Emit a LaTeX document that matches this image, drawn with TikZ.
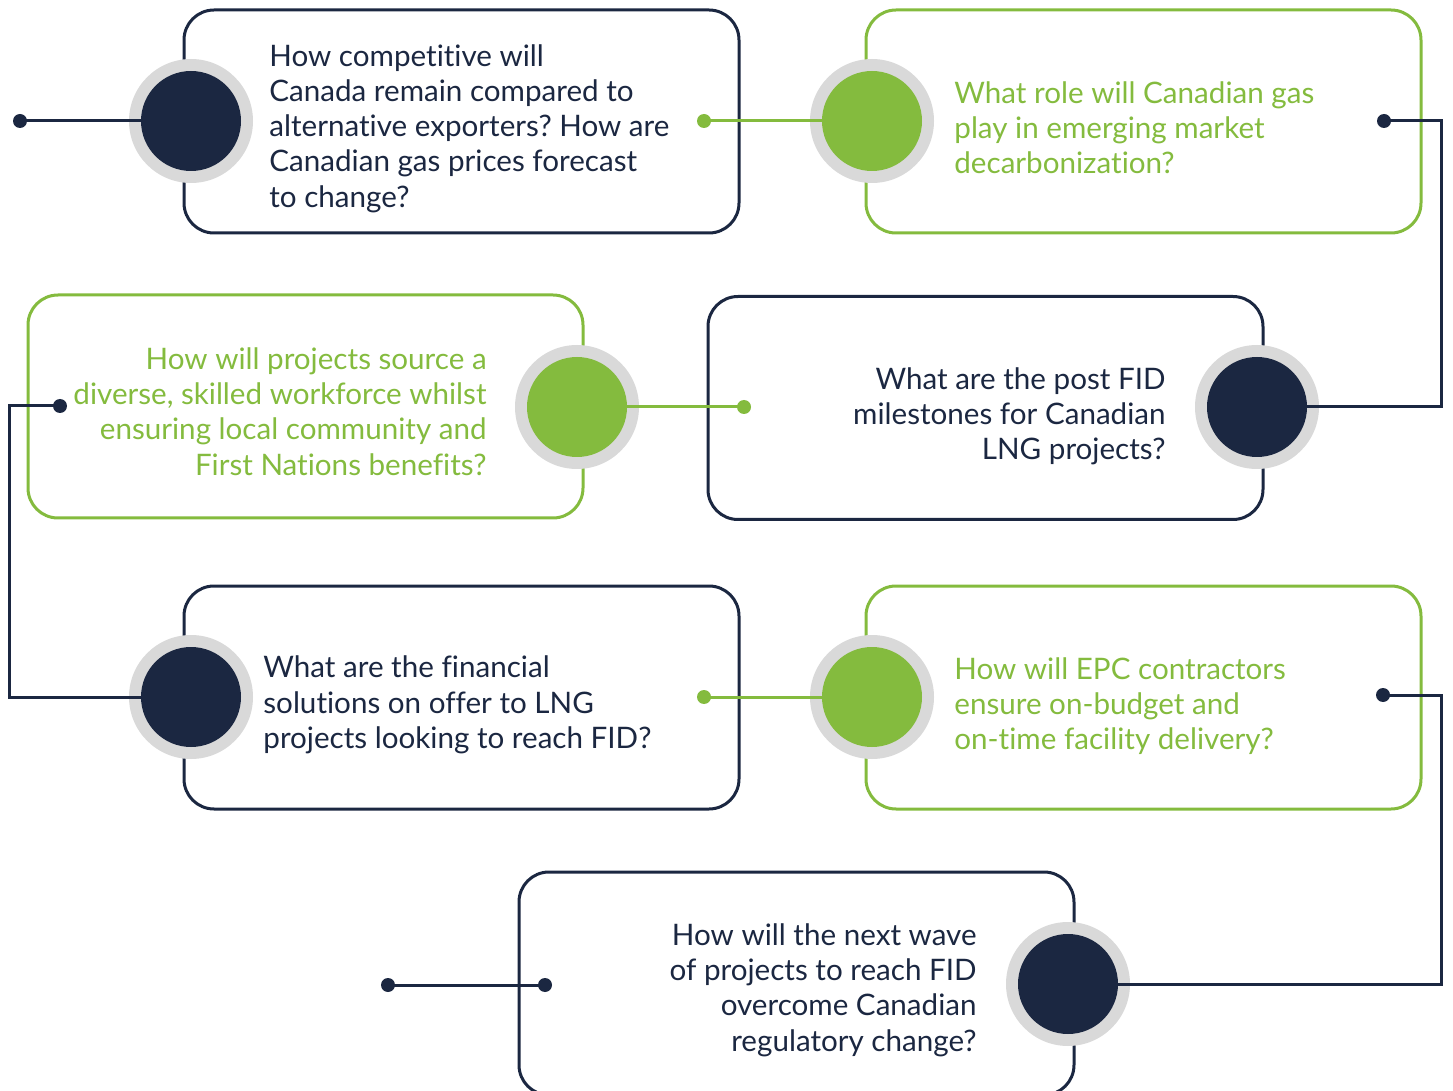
\documentclass[tikz,border=0pt]{standalone}
\usepackage{fontspec}
\setmainfont{Lato}[Ligatures=CommonOff]
\frenchspacing
\definecolor{navy}{HTML}{1B2741}
\definecolor{leaf}{HTML}{84BB3E}
\definecolor{ringgray}{HTML}{D9D9D9}
\tikzset{
  qbox/.style={draw=#1, line width=1.5pt, rounded corners=15pt, minimum width=277.5pt, minimum height=111.5pt, inner sep=0pt},
  ring/.style={circle, fill=ringgray, minimum size=62pt, inner sep=0pt},
  core/.style={circle, fill=#1, minimum size=50pt, inner sep=0pt, outer sep=0pt},
  dot/.style={circle, fill=#1, minimum size=7pt, inner sep=0pt},
  link/.style={draw=#1, line width=1.5pt},
  qtext/.style={text=#1, font=\fontsize{14.8pt}{17.6pt}\selectfont, inner sep=0pt},
}
\begin{document}
\begin{tikzpicture}[x=0.5pt, y=-0.5pt]
\clip (0,0) rectangle (1453,1091);
% question boxes
\node[qbox=navy] (b1) at (461.5,121.5) {};
\node[qbox=leaf] (b2) at (1143.5,121.5) {};
\node[qbox=leaf] (b3) at (305.5,406.5) {};
\node[qbox=navy] (b4) at (985.5,408) {};
\node[qbox=navy] (b5) at (461.5,697.5) {};
\node[qbox=leaf] (b6) at (1143.5,697.5) {};
\node[qbox=navy] (b7) at (796.5,983.5) {};
% texts
\node[qtext=navy, anchor=west, align=left] (t1) at (269,128.5) {How competitive will\\Canada remain compared to\\alternative exporters? How are\\Canadian gas prices forecast\\to change?};
\node[qtext=leaf, anchor=west, align=left] (t2) at (954,127.5) {What role will Canadian gas\\play in emerging market\\decarbonization?};
\node[qtext=leaf, anchor=east, align=right] (t3) at (487,411.5) {How will projects source a\\diverse, skilled workforce whilst\\ensuring local community and\\First Nations benefits?};
\node[qtext=navy, anchor=east, align=right] (t4) at (1166,416) {What are the post FID\\milestones for Canadian\\LNG projects?};
\node[qtext=navy, anchor=west, align=left] (t5) at (263,705) {What are the financial\\solutions on offer to LNG\\projects looking to reach FID?};
\node[qtext=leaf, anchor=west, align=left] (t6) at (954,706) {How will EPC contractors\\ensure on-budget and\\on-time facility delivery?};
\node[qtext=navy, anchor=east, align=right] (t7) at (977,990) {How will the next wave\\of projects to reach FID\\overcome Canadian\\regulatory change?};
% circles
\foreach \n/\col/\x/\y in {1/navy/191/121, 2/leaf/872/121, 3/leaf/577/407, 4/navy/1257/407, 5/navy/191/697, 6/leaf/872/697, 7/navy/1068/984}{
  \node[ring] (r\n) at (\x,\y) {};
  \node[core=\col] (c\n) at (\x,\y) {};
}
% end dots
\node[dot=navy] (d1) at (20,121) {};
\node[dot=leaf] (d2) at (704,121) {};
\node[dot=navy] (d3) at (1384,121) {};
\node[dot=leaf] (d4) at (744,407) {};
\node[dot=navy] (d5) at (60,406) {};
\node[dot=leaf] (d6) at (704,697) {};
\node[dot=navy] (d7) at (1383,695) {};
\node[dot=navy] (d8) at (388,985) {};
\node[dot=navy] (d9) at (545,985) {};
\coordinate (k4) at (1441,407);
\coordinate (k5) at (9,697);
\coordinate (k7) at (1441,984);
% connectors
\draw[link=navy] (d1.center) -- (c1.west);
\draw[link=leaf] (d2.center) -- (c2.west);
\draw[link=navy] (d3.center) -| (k4) -- (c4.east);
\draw[link=leaf] (c3.east) -- (d4.center);
\draw[link=navy] (d5.center) -| (k5) -- (c5.west);
\draw[link=leaf] (d6.center) -- (c6.west);
\draw[link=navy] (d7.center) -| (k7) -- (c7.east);
\draw[link=navy] (d8.center) -- (d9.center);
\end{tikzpicture}
\end{document}
